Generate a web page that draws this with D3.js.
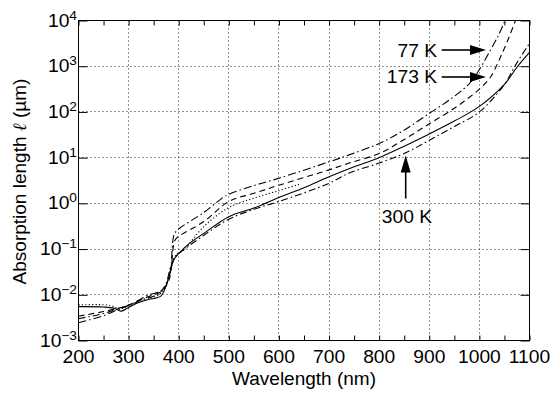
<!DOCTYPE html>
<html><head><meta charset="utf-8">
<script src="https://cdn.jsdelivr.net/npm/d3@7"></script>
<style>body{margin:0;background:#fff}svg{display:block}text{font-family:"Liberation Sans",Arial,Helvetica,sans-serif;fill:#000}</style>
</head><body><svg id="c" width="552" height="395"></svg>
<script>
// ---- data (absorption length in µm vs wavelength in nm) ----
const xTicks = [200,300,400,500,600,700,800,900,1000,1100];
const yTickExps = [-3,-2,-1,0,1,2,3,4];

const wlSolid  = [200,250,270,285,300,320,340,355,365,372,380,390,400,420,450,500,550,600,650,700,750,800,850,900,950,1000,1050,1075,1100];
const valSolid = [0.0055,0.0054,0.0051,0.0044,0.0053,0.0068,0.0079,0.0085,0.0095,0.013,0.024,0.058,0.080,0.13,0.22,0.51,0.79,1.35,2.2,3.8,6.3,10,17.8,33,63,132,400,950,2000];

const wlDotted  = [200,255,270,282,300,330,350,365,375,385,395,410,450,500,550,600,640];
const valDotted = [0.0060,0.0060,0.0055,0.0049,0.0057,0.0075,0.0088,0.011,0.016,0.040,0.075,0.095,0.31,0.81,1.3,1.9,2.6];

const wl173  = [200,250,280,300,330,350,365,375,382,386,390,394,400,450,500,550,600,700,740,800,850,900,950,980,1000,1022,1040,1056,1072,1082];
const val173 = [0.0034,0.0043,0.0051,0.006,0.0083,0.01,0.0117,0.0158,0.0234,0.05,0.126,0.166,0.19,0.4,1.1,1.66,2.5,5.4,7.6,12.3,25,55,120,209,316,575,1410,3550,10000,20000];

const wl77  = [200,250,280,300,320,340,360,372,380,384,388,391,400,450,490,500,550,600,700,740,800,850,900,940,980,1000,1022,1040,1051,1062];
const val77 = [0.00245,0.0035,0.0048,0.0058,0.0076,0.010,0.0115,0.0141,0.0224,0.035,0.14,0.21,0.275,0.63,1.38,1.58,2.45,3.55,8.1,11.5,20.4,40,93,182,417,850,2240,5250,10000,20000];

const wlLow  = [200,250,280,300,330,350,365,375,385,395,400,450,500,550,600,700,740,800,852,900,950,1000,1050,1075,1100];
const valLow = [0.0030,0.0039,0.005,0.0058,0.008,0.0093,0.012,0.018,0.045,0.072,0.080,0.20,0.45,0.74,1.1,2.75,4.6,7.6,12.6,24,48,100,400,1200,3160];

const labels = ["77 K","173 K","300 K"];

// ---- layout ----
const L=78.5, R=529.5, T=20.5, B=340.5;
const svg = d3.select("#c");
const x = d3.scaleLinear().domain([200,1100]).range([L,R]);
const y = d3.scaleLog().domain([1e-3,1e4]).range([B,T]);
const snap = v => Math.round(v-0.5)+0.5;

// grid
const g = svg.append("g");
xTicks.slice(1,-1).forEach(v=>{
  g.append("line").attr("x1",snap(x(v))).attr("x2",snap(x(v))).attr("y1",T).attr("y2",B)
   .attr("stroke","#222").attr("stroke-width",1).attr("stroke-dasharray","1,3");
});
yTickExps.slice(1,-1).forEach(e=>{
  const yy = snap(y(Math.pow(10,e)));
  g.append("line").attr("x1",L).attr("x2",R).attr("y1",yy).attr("y2",yy)
   .attr("stroke","#222").attr("stroke-width",1).attr("stroke-dasharray","1,3");
});

// ticks (inward) via axes
const minorX = d3.range(200,1101,50);
svg.append("g").attr("transform",`translate(0,${B})`)
  .call(d3.axisTop(x).tickValues(minorX).tickSize(5).tickFormat(""))
  .call(a=>a.select(".domain").remove());
svg.append("g").attr("transform",`translate(0,${T})`)
  .call(d3.axisBottom(x).tickValues(minorX).tickSize(5).tickFormat(""))
  .call(a=>a.select(".domain").remove());
const yVals = yTickExps.map(e=>Math.pow(10,e));
svg.append("g").attr("transform",`translate(${L},0)`)
  .call(d3.axisRight(y).tickValues(yVals).tickSize(9).tickFormat(""))
  .call(a=>a.select(".domain").remove());
svg.append("g").attr("transform",`translate(${R},0)`)
  .call(d3.axisLeft(y).tickValues(yVals).tickSize(9).tickFormat(""))
  .call(a=>a.select(".domain").remove());

// tick labels
xTicks.forEach(v=>{
  svg.append("text").attr("transform",`translate(${x(v)},${363}) scale(1.1,1)`)
    .attr("text-anchor","middle").attr("font-size",17.5).text(v);
});
yTickExps.forEach(e=>{
  const t = svg.append("text").attr("transform",`translate(77,${y(Math.pow(10,e))+6}) scale(1.1,1)`)
    .attr("text-anchor","end").attr("font-size",17.5);
  t.append("tspan").text("10");
  t.append("tspan").attr("dy",-7).attr("font-size",12.5).text(e<0?"\u2212"+(-e):String(e));
});

// axis titles
svg.append("text").attr("x",(L+R)/2).attr("y",385).attr("text-anchor","middle")
  .attr("font-size",19).text("Wavelength (nm)");
const yl = svg.append("text").attr("transform",`translate(26,${(T+B)/2+1}) rotate(-90)`)
  .attr("text-anchor","middle").attr("font-size",19);
yl.append("tspan").text("Absorption length ");
yl.append("tspan").attr("font-style","italic").attr("font-family","DejaVu Serif").text("\u2113");
yl.append("tspan").text("  (\u00b5m)");

// curves
svg.append("clipPath").attr("id","clip").append("rect")
  .attr("x",L).attr("y",T).attr("width",R-L).attr("height",B-T);
const line = d3.line().x(d=>x(d[0])).y(d=>y(d[1])).curve(d3.curveCatmullRom.alpha(0.5));
const series = [
  {wl:wlSolid, v:valSolid, dash:null},
  {wl:wlDotted, v:valDotted, dash:"1.2,2.2"},
  {wl:wl173, v:val173, dash:"6,4"},
  {wl:wl77, v:val77, dash:"8,3,1.5,3"},
  {wl:wlLow, v:valLow, dash:"7,3,1.5,3"}
];
const cg = svg.append("g").attr("clip-path","url(#clip)");
series.forEach(s=>{
  cg.append("path").datum(s.wl.map((w,i)=>[w,s.v[i]]))
    .attr("d",line).attr("fill","none").attr("stroke","#000").attr("stroke-width",1.1)
    .attr("stroke-dasharray",s.dash);
});

// frame
svg.append("rect").attr("x",L).attr("y",T).attr("width",R-L).attr("height",B-T)
  .attr("fill","none").attr("stroke","#000").attr("stroke-width",1);

// annotations
function harrow(x1,x2,yy){
  svg.append("line").attr("x1",x1).attr("x2",x2-14).attr("y1",yy).attr("y2",yy)
    .attr("stroke","#000").attr("stroke-width",1.6);
  svg.append("path").attr("d",`M${x2},${yy} L${x2-16},${yy-5} L${x2-16},${yy+5} Z`).attr("fill","#000");
}
harrow(441.7,486,50);
harrow(441.7,486,77);
svg.append("text").attr("transform","translate(437,56.5) scale(1.1,1)").attr("text-anchor","end")
  .attr("font-size",17.5).text(labels[0]);
svg.append("text").attr("transform","translate(437,83.3) scale(1.1,1)").attr("text-anchor","end")
  .attr("font-size",17.5).text(labels[1]);
// vertical arrow
svg.append("line").attr("x1",405.7).attr("x2",405.7).attr("y1",198.5).attr("y2",170)
  .attr("stroke","#000").attr("stroke-width",1.6);
svg.append("path").attr("d","M405.7,155.5 L400.7,172.5 L410.7,172.5 Z").attr("fill","#000");
svg.append("text").attr("transform","translate(407,223.3) scale(1.1,1)").attr("text-anchor","middle")
  .attr("font-size",17.5).text(labels[2]);
</script></body></html>
